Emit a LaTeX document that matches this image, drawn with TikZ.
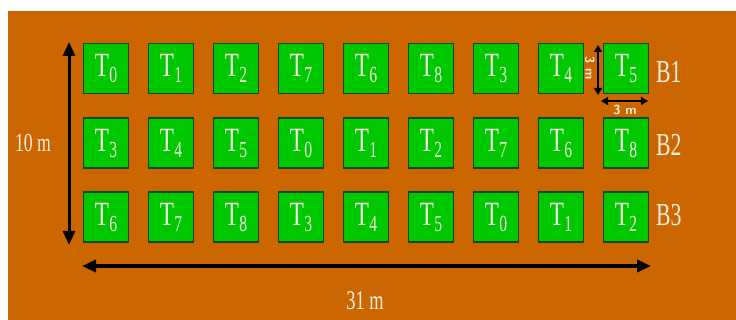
\documentclass[tikz,border=0pt]{standalone}
\usepackage{fontspec}
\newfontfamily\cond[FakeStretch=0.68]{Liberation Serif}
\usetikzlibrary{arrows.meta}
\definecolor{soil}{HTML}{CC6600}
\definecolor{plot}{HTML}{00C800}
\definecolor{plotedge}{HTML}{0A4A0A}
\definecolor{lbl}{HTML}{F6EFE4}
\newcommand{\tsub}[1]{T\kern0.5pt\raisebox{-6pt}{\fontsize{23}{23}\selectfont #1}}
\begin{document}
\begin{tikzpicture}[x=1pt,y=-1pt,
  plotbox/.style={draw=plotedge,line width=1.6pt,fill=plot,minimum width=45pt,minimum height=50pt,inner sep=0pt,text=lbl,font=\cond\fontsize{34}{36}\selectfont},
  blabel/.style={text=lbl,font=\cond\fontsize{32}{34}\selectfont,inner sep=0pt,anchor=west},
  dimlbl/.style={text=lbl,inner sep=0pt},
  bigarrow/.style={line width=3.5pt,{Triangle[width=12pt,length=14pt]}-{Triangle[width=12pt,length=14pt]}},
  smallarrow/.style={line width=1.6pt,{Triangle[width=8pt,length=7pt]}-{Triangle[width=8pt,length=7pt]}}]
\useasboundingbox (0,0) rectangle (736,320);
\fill[white] (0,0) rectangle (736,320);
\fill[soil] (8,11) rectangle (736,320);
% plots
\foreach \r/\y/\labs in {1/68.5/{0,1,2,7,6,8,3,4,5},2/143/{3,4,5,0,1,2,7,6,8},3/217/{6,7,8,3,4,5,0,1,2}}{
  \foreach \t [count=\c from 0] in \labs {
    \node[plotbox] (p\r-\c) at ({106+65*\c},\y) {\tsub{\t}};
  }
}
\node[blabel] (b1) at (656,72) {B1};
\node[blabel] (b2) at (656,145) {B2};
\node[blabel] (b3) at (656,215) {B3};
% big dimension arrows
\coordinate (vt) at (69,42);
\coordinate (vb) at (69,245);
\draw[bigarrow,line width=3pt] (vt) -- (vb);
\node[dimlbl,font=\cond\fontsize{26}{28}\selectfont] (l10) at (33,143) {10 m};
\coordinate (hl) at (82,266);
\coordinate (hr) at (651,266);
\draw[bigarrow,line width=4.5pt] (hl) -- (hr);
\node[dimlbl,font=\cond\fontsize{27}{29}\selectfont] (l31) at (365,301) {31 m};
% small dimension arrows
\coordinate (st) at (598,45);
\coordinate (sb) at (598,95);
\draw[smallarrow] (st) -- (sb);
\node[dimlbl,rotate=-90,font=\sffamily\bfseries\fontsize{13}{14}\selectfont] (l3v) at (590,68) {3 m};
\coordinate (sl) at (601,101);
\coordinate (sr) at (648,101);
\draw[smallarrow] (sl) -- (sr);
\node[dimlbl,font=\sffamily\bfseries\fontsize{13}{14}\selectfont] (l3h) at (625,110) {3 m};
\end{tikzpicture}
\end{document}
